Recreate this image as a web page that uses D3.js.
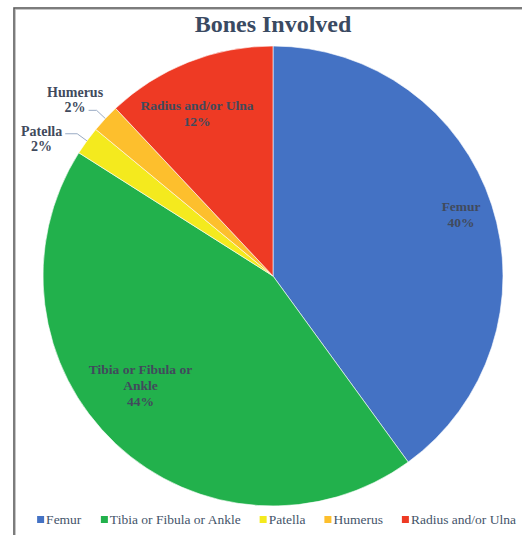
<!DOCTYPE html>
<html>
<head>
<meta charset="utf-8">
<script src="https://cdn.jsdelivr.net/npm/d3@7"></script>
<style>
  body { margin: 0; background: #fff; }
  svg { display: block; }
  text { font-family: "Times New Roman", "Liberation Serif", serif; }
</style>
</head>
<body>
<svg id="chart" width="522" height="535"></svg>
<script>
// chart data
var categories = ["Femur", "Tibia or Fibula or Ankle", "Patella", "Humerus", "Radius and/or Ulna"];
var values = [40, 44, 2, 2, 12];
var colors = ["#4472c4", "#22b14c", "#f4ea1e", "#fdbf2d", "#ee3a24"];
var title = "Bones Involved";

var svg = d3.select("#chart");
var cx = 273, cy = 276, radius = 230;
var labelColor = "#414a5c";

// frame
svg.append("rect")
    .attr("x", 14).attr("y", 8)
    .attr("width", 600).attr("height", 600)
    .attr("fill", "none")
    .attr("stroke", "#5c5c5c")
    .attr("stroke-width", 1.6);
svg.append("rect")
    .attr("x", 15.5).attr("y", 9.5)
    .attr("width", 600).attr("height", 600)
    .attr("fill", "none")
    .attr("stroke", "#b8b8b8")
    .attr("stroke-width", 0.8);

svg.append("text")
    .attr("x", cx)
    .attr("y", 32)
    .attr("text-anchor", "middle")
    .attr("font-weight", "bold")
    .attr("font-size", 24)
    .attr("fill", "#3a4a62")
    .text(title);

var data = categories.map(function(c, i) { return {name: c, value: values[i], color: colors[i]}; });

var pie = d3.pie().sort(null).value(function(d) { return d.value; });
var arcs = pie(data);

var arc = d3.arc().innerRadius(0).outerRadius(radius);

var g = svg.append("g").attr("transform", "translate(" + cx + "," + cy + ")");

g.selectAll("path.slice")
  .data(arcs)
  .enter().append("path")
    .attr("class", "slice")
    .attr("d", arc)
    .attr("fill", function(d) { return d.data.color; })
    .attr("stroke", "#fff")
    .attr("stroke-width", 0.6);

// inside label placement: [radius factor, angle nudge in degrees]
var inside = {"Femur": [0.86, 0], "Tibia or Fibula or Ankle": [0.75, 7], "Radius and/or Ulna": [0.78, -3.5]};
var wrapLines = {"Tibia or Fibula or Ankle": ["Tibia or Fibula or", "Ankle"]};
// outside labels: [leader horizontal length, which text line the leader points at]
var outside = {"Patella": [12, 0], "Humerus": [8, 1]};

arcs.forEach(function(d) {
  var pct = Math.round(d.value / d3.sum(values) * 100) + "%";
  var mid = (d.startAngle + d.endAngle) / 2;
  var lines = (wrapLines[d.data.name] || [d.data.name]).concat([pct]);
  var tw = inside[d.data.name];
  if (tw) {
    var rr = radius * tw[0], a = mid + tw[1] * Math.PI / 180;
    var x = rr * Math.sin(a), y = -rr * Math.cos(a);
    var t = g.append("text")
        .attr("text-anchor", "middle")
        .attr("font-weight", "bold")
        .attr("font-size", 13.5)
        .attr("fill", labelColor);
    lines.forEach(function(l, i) {
      t.append("tspan")
          .attr("x", x)
          .attr("y", y + (i - (lines.length - 1) / 2) * 16 + 4)
          .text(l);
    });
  } else {
    // outside label with leader line
    var o = outside[d.data.name];
    var p0 = [radius * Math.sin(mid), -radius * Math.cos(mid)];
    var r1 = radius + 12;
    var p1 = [r1 * Math.sin(mid), -r1 * Math.cos(mid)];
    var p2 = [p1[0] - o[0], p1[1]];
    g.append("polyline")
        .attr("points", [p0, p1, p2].map(function(p) { return p.join(","); }).join(" "))
        .attr("fill", "none")
        .attr("stroke", "#9aabc4")
        .attr("stroke-width", 1);
    var t2 = g.append("text")
        .attr("text-anchor", "middle")
        .attr("font-weight", "bold")
        .attr("font-size", 14)
        .attr("fill", labelColor);
    var spans = lines.map(function(l) { return t2.append("tspan").text(l); });
    var w = spans[o[1]].node().getComputedTextLength();
    var lx = p2[0] - 3 - w / 2;
    spans.forEach(function(s, i) {
      s.attr("x", lx).attr("y", p2[1] + 2 + (i - o[1]) * 15);
    });
  }
});

// legend
var legend = svg.append("g").attr("font-size", 13.5);
var items = legend.selectAll("g")
  .data(data)
  .enter().append("g");
items.append("rect")
    .attr("width", 7).attr("height", 7)
    .attr("y", -8)
    .attr("fill", function(d) { return d.color; });
items.append("text")
    .attr("x", 9)
    .attr("fill", "#44546a")
    .text(function(d) { return d.name; });
var gap = 19, pos = 0, offs = [];
items.each(function() {
  offs.push(pos);
  pos += this.getBBox().width + gap;
});
var total = pos - gap;
var startX = 276.5 - total / 2;
items.attr("transform", function(d, i) { return "translate(" + (startX + offs[i]) + ",524)"; });
</script>
</body>
</html>
